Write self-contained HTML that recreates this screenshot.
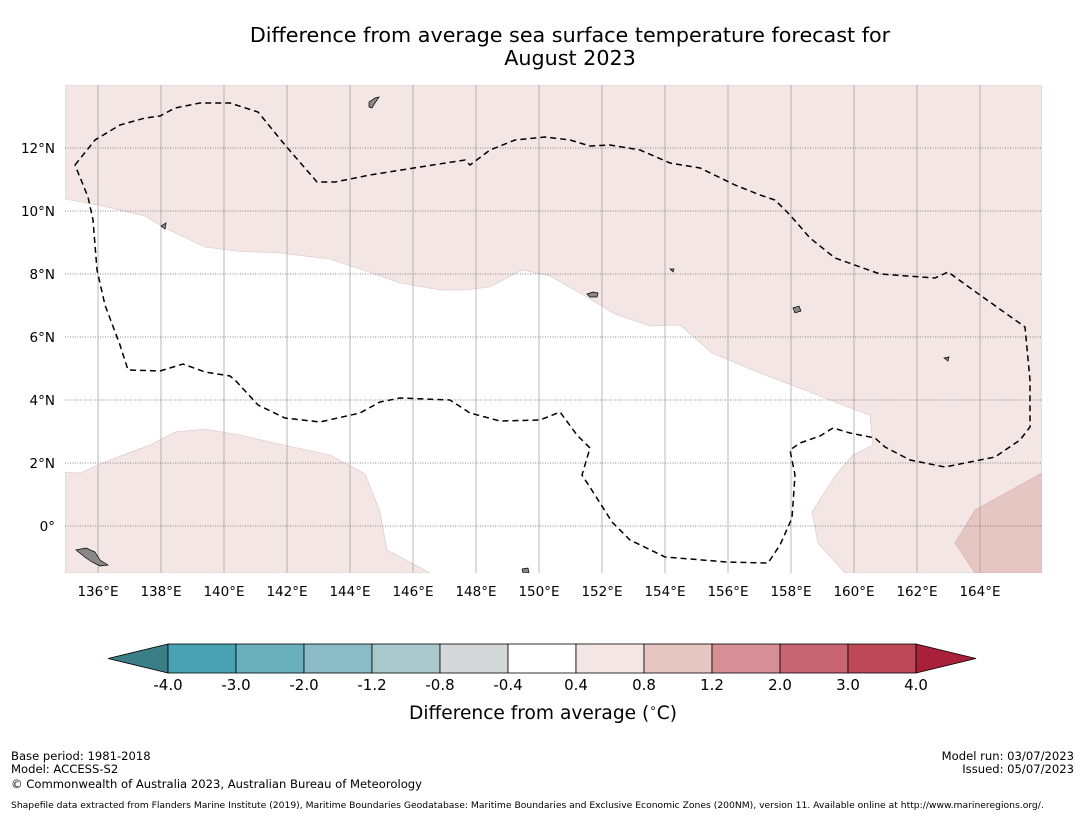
<!DOCTYPE html>
<html><head><meta charset="utf-8"><style>
body{margin:0;background:#fff;width:1085px;height:816px;overflow:hidden;font-family:"Liberation Sans","DejaVu Sans",sans-serif}
svg text{font-family:"DejaVu Sans","Liberation Sans",sans-serif}
</style></head><body>
<svg width="1085" height="816">
<text x="570" y="42" font-size="20.7" text-anchor="middle">Difference from average sea surface temperature forecast for</text>
<text x="570" y="65" font-size="20.7" text-anchor="middle">August 2023</text>
<clipPath id="mc"><rect x="65" y="85" width="977" height="488"/></clipPath>
<g clip-path="url(#mc)">
<rect x="65" y="85" width="977" height="488" fill="#fff"/>
<polygon fill="#f3e6e5" stroke="#d8c4c3" stroke-width="0.6" points="65,199 103,206 145,216 165,228 205,247 235,251 280,253 330,259 375,274 400,283 440,290 465,290 490,287 522,270 550,276 580,293 615,314 650,326 680,325 712,353 760,373 810,392 850,408 870,415 873,445 853,455 835,476 812,512 818,543 845,573 1042,573 1042,85 65,85"/>
<polygon fill="#f3e6e5" stroke="#d8c4c3" stroke-width="0.6" points="65,472 80,473 110,460 150,445 175,432 205,429 240,435 270,442 330,455 365,474 380,512 387,550 430,573 65,573"/>
<polygon fill="#e6c6c2" stroke="#d4b0ac" stroke-width="0.6" points="1042,473 975,510 955,543 975,573 1042,573"/>
<g id="grid"></g>
<polyline fill="none" stroke="#000" stroke-width="1.5" stroke-dasharray="6,4" points="75,165 95,140 120,125 145,118 160,116 175,108 200,103 230,103 258,112 285,145 317,182 335,182 370,175 420,167 465,160 470,165 490,150 515,140 545,137 570,140 590,146 610,145 640,150 670,163 700,168 735,185 760,195 775,200 790,215 810,238 835,258 880,274 935,278 948,272 980,295 1025,327 1030,380 1030,427 1020,440 995,457 945,467 910,460 885,447 875,438 850,433 833,428 820,436 800,443 790,450 795,475 792,518 780,545 768,563 727,562 665,557 630,540 612,522 595,495 582,475 590,448 577,435 560,412 540,420 500,421 470,413 450,400 400,398 380,402 360,413 320,422 285,418 258,405 235,380 230,376 205,372 183,364 160,371 128,370 120,345 105,305 97,270 93,220 88,197 75,165"/>
<g fill="#888" stroke="#000" stroke-width="0.7">
<polygon points="369,102 375,98 379,97 375,103 372,108 369,107"/>
<polygon points="76,550 86,548 95,552 100,560 108,565 100,566 92,562 86,558"/>
<polygon points="793,308 799,306 801,311 795,313"/>
<polygon points="522,569 528,568 529,573 523,573"/>
<polygon points="587,294 593,292 598,293 597,297 590,297"/>
<polygon points="161,226 166,223 165,229"/>
<polygon points="944,358 949,357 948,361"/>
<polygon points="670,269 674,269 673,272"/>
</g>
</g>
<g id="xt"></g>
<g id="yt"></g>
<g id="cb"></g>
<text x="543" y="719" font-size="18.6" text-anchor="middle">Difference from average (<tspan font-size="12" dy="-7">∘</tspan><tspan dy="7">C)</tspan></text>
<g font-size="11.6">
<text x="11" y="760">Base period: 1981-2018</text>
<text x="11" y="773">Model: ACCESS-S2</text>
<text x="11" y="788">© Commonwealth of Australia 2023, Australian Bureau of Meteorology</text>
<text x="1074" y="760" text-anchor="end">Model run: 03/07/2023</text>
<text x="1074" y="773" text-anchor="end">Issued: 05/07/2023</text>
<text x="11" y="808" font-size="9.2">Shapefile data extracted from Flanders Marine Institute (2019), Maritime Boundaries Geodatabase: Maritime Boundaries and Exclusive Economic Zones (200NM), version 11. Available online at http://www.marineregions.org/.</text>
</g>
</svg>
<script>
const lonTicks=[136,138,140,142,144,146,148,150,152,154,156,158,160,162,164];
const latTicks=[0,2,4,6,8,10,12];
const latLabels=["0°","2°N","4°N","6°N","8°N","10°N","12°N"];
const cbLevels=["-4.0","-3.0","-2.0","-1.2","-0.8","-0.4","0.4","0.8","1.2","2.0","3.0","4.0"];
const cbColors=["#48a2b2","#6aafbc","#8bbbc6","#a9c8cc","#d4d8d9","#ffffff","#f3e6e5","#e6c6c2","#d68f97","#c76672","#bd4858"];
const NS="http://www.w3.org/2000/svg";
const X=l=>66.5+(l-135)*31.5, Y=t=>526-t*31.5;
function mk(tag,attrs,parent){const e=document.createElementNS(NS,tag);for(const k in attrs)e.setAttribute(k,attrs[k]);parent.appendChild(e);return e;}
const g=document.getElementById('grid'),xt=document.getElementById('xt'),yt=document.getElementById('yt'),cb=document.getElementById('cb');
lonTicks.forEach(l=>{
 const ln=mk('line',{x1:X(l),x2:X(l),y1:85,y2:573,stroke:'#999','stroke-width':0.8,opacity:0.85},g);
 
 
 const t=mk('text',{x:X(l),y:596,'font-size':13.5,'text-anchor':'middle'},xt);t.textContent=l+'°E';
 
 
});
latTicks.forEach((v,i)=>{
 const ln=mk('line',{x1:65,x2:1042,y1:Y(v),y2:Y(v),stroke:'#666','stroke-width':0.8,'stroke-dasharray':'1,1.5'},g);
 
 
 const t=mk('text',{x:55,y:Y(v)+5,'font-size':13.5,'text-anchor':'end'},yt);t.textContent=latLabels[i];
 
 
});
const cx0=168,cw=68,cy=644,ch=29;
const lt=mk('polygon',{points:`${cx0},${cy} ${cx0},${cy+ch} 108,${cy+ch/2}`,fill:'#3a7f88',stroke:'#000','stroke-width':0.8},cb);


cbColors.forEach((c,i)=>{
 const r=mk('rect',{x:cx0+i*cw,y:cy,width:cw,height:ch,fill:c,stroke:'#000','stroke-width':0.8},cb);
 
 
});
const n=cbColors.length;
const rt=mk('polygon',{points:`${cx0+n*cw},${cy} ${cx0+n*cw},${cy+ch} ${cx0+n*cw+60},${cy+ch/2}`,fill:'#a8203a',stroke:'#000','stroke-width':0.8},cb);


cbLevels.forEach((s,i)=>{
 const t=mk('text',{x:cx0+i*cw,y:690,'font-size':15,'text-anchor':'middle'},cb);t.textContent=s;
 
 
});
</script>
</body></html>
